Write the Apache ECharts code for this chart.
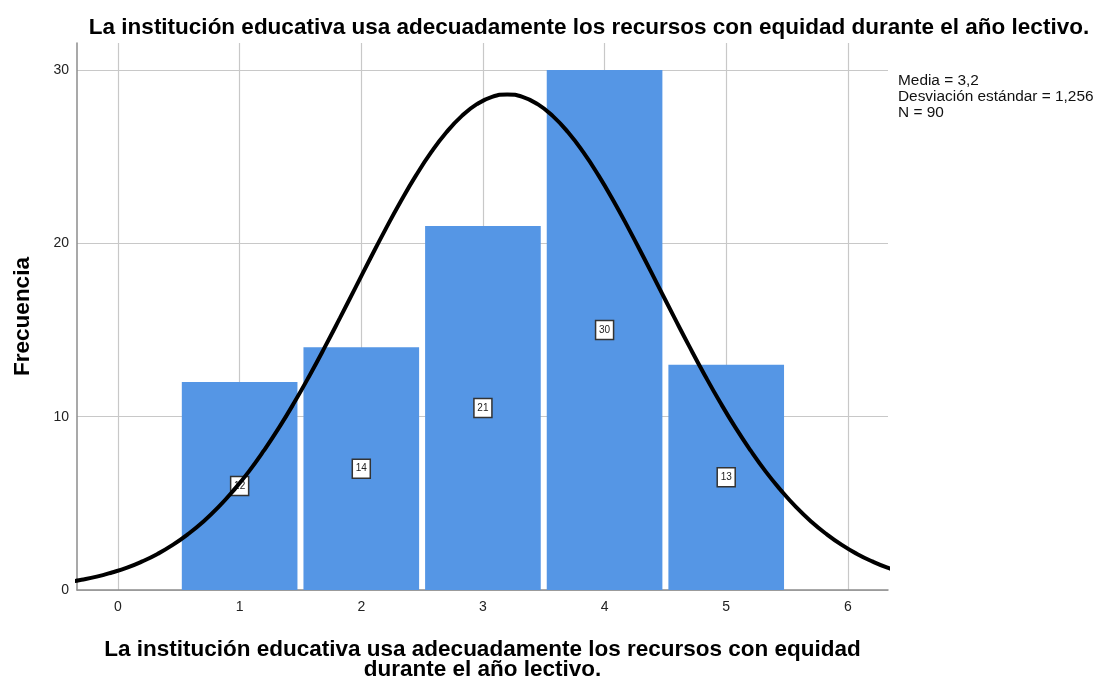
<!DOCTYPE html>
<html><head><meta charset="utf-8">
<script src="https://cdn.jsdelivr.net/npm/echarts@6/dist/echarts.min.js"></script>
<style>html,body{margin:0;padding:0;background:#fff}#c{width:1097px;height:680px}</style>
</head><body><div id="c"></div>
<script>
const categories = [1, 2, 3, 4, 5];
const frequencies = [12, 14, 21, 30, 13];
const xTicks = [0, 1, 2, 3, 4, 5, 6];
const yTicks = [0, 10, 20, 30];
const curveX = [-0.55, -0.425, -0.3, -0.175, -0.05, 0.075, 0.2, 0.325, 0.45, 0.575, 0.7, 0.825, 0.95, 1.075, 1.2, 1.325, 1.45, 1.575, 1.7, 1.825, 1.95, 2.075, 2.2, 2.325, 2.45, 2.575, 2.7, 2.825, 2.95, 3.075, 3.2, 3.325, 3.45, 3.575, 3.7, 3.825, 3.95, 4.075, 4.2, 4.325, 4.45, 4.575, 4.7, 4.825, 4.95, 5.075, 5.2, 5.325, 5.45, 5.575, 5.7, 5.825, 5.95, 6.075, 6.2, 6.325, 6.45];
const curveY = [0.33, 0.44, 0.59, 0.77, 1.01, 1.29, 1.65, 2.08, 2.60, 3.22, 3.94, 4.78, 5.75, 6.83, 8.05, 9.38, 10.83, 12.38, 14.01, 15.70, 17.42, 19.14, 20.82, 22.43, 23.92, 25.26, 26.41, 27.34, 28.03, 28.45, 28.59, 28.45, 28.03, 27.34, 26.41, 25.26, 23.92, 22.43, 20.82, 19.14, 17.42, 15.70, 14.01, 12.38, 10.83, 9.38, 8.05, 6.83, 5.75, 4.78, 3.94, 3.22, 2.60, 2.08, 1.65, 1.29, 1.01];
const statsLines = ['Media = 3,2', 'Desviación estándar = 1,256', 'N = 90'];
const titleText = 'La institución educativa usa adecuadamente los recursos con equidad durante el año lectivo.';
const xName = 'La institución educativa usa adecuadamente los recursos con equidad\ndurante el año lectivo.';
const yName = 'Frecuencia';

const FONT = '"Liberation Sans", Arial, sans-serif';
const chart = echarts.init(document.getElementById('c'), null, {renderer: 'canvas'});

const barData = categories.map((c, i) => [c, frequencies[i]]);
const curveData = curveX.map((x, i) => [x, curveY[i]]);

chart.setOption({
  animation: false,
  backgroundColor: '#fff',
  title: {
    text: titleText, left: 584, top: 11, textAlign: 'center',
    textStyle: {fontFamily: FONT, fontSize: 22.5, fontWeight: 'bold', color: '#000'}
  },
  grid: {left: 77, right: 209, top: 43, bottom: 90, containLabel: false, outerBoundsMode: 'none'},
  xAxis: {
    type: 'value', min: -0.337, max: 6.33,
    name: xName, nameLocation: 'middle', nameGap: 50,
    nameTextStyle: {fontFamily: FONT, fontSize: 22.5, fontWeight: 'bold', color: '#000', lineHeight: 20},
    axisLine: {show: true, onZero: false, lineStyle: {color: '#8c8c8c', width: 1.5}},
    axisTick: {show: false, customValues: xTicks},
    axisLabel: {customValues: xTicks, fontFamily: FONT, fontSize: 14, color: '#222', margin: 10},
    splitLine: {show: true, lineStyle: {color: '#c8c8c8', width: 1.2}}
  },
  yAxis: {
    type: 'value', min: 0, max: 31.56,
    name: yName, nameLocation: 'middle', nameGap: 43, nameRotate: 90,
    nameTextStyle: {fontFamily: FONT, fontSize: 22.5, fontWeight: 'bold', color: '#000'},
    axisLine: {show: true, onZero: false, lineStyle: {color: '#8c8c8c', width: 1.5}},
    axisTick: {show: false, customValues: yTicks},
    axisLabel: {customValues: yTicks, fontFamily: FONT, fontSize: 14, color: '#222', margin: 8},
    splitLine: {show: true, lineStyle: {color: '#c8c8c8', width: 1.2}}
  },
  series: [
    {
      type: 'custom',
      data: barData,
      z: 2,
      renderItem: function (params, api) {
        const x = api.value(0), y = api.value(1);
        const p0 = api.coord([x - 0.5, y]);
        const p1 = api.coord([x + 0.5, 0]);
        const inset = 3;
        return {
          type: 'rect',
          shape: {x: p0[0] + inset, y: p0[1], width: p1[0] - p0[0] - 2 * inset, height: p1[1] - p0[1]},
          style: {fill: '#5596e5'}
        };
      }
    },
    {
      type: 'custom',
      data: barData,
      z: 3,
      renderItem: function (params, api) {
        const x = api.value(0), y = api.value(1);
        const p = api.coord([x, y / 2]);
        const w = 18, h = 19;
        return {
          type: 'group',
          children: [
            {type: 'rect', shape: {x: p[0] - w / 2, y: p[1] - h / 2, width: w, height: h},
             style: {fill: '#fff', stroke: '#333', lineWidth: 1.5}, z2: 10},
            {type: 'text', style: {x: p[0], y: p[1], text: String(y), align: 'center', verticalAlign: 'middle',
             fontFamily: FONT, fontSize: 10, fill: '#222'}, z2: 11}
          ]
        };
      }
    },
    {
      type: 'line',
      data: curveData,
      smooth: true,
      showSymbol: false,
      clip: true,
      z: 5,
      lineStyle: {color: '#000', width: 4},
      silent: true
    }
  ],
  graphic: statsLines.map((t, i) => ({
    type: 'text', left: 898, top: 73.5 + i * 16,
    style: {text: t, fontFamily: FONT, fontSize: 15.4, fill: '#111'}
  }))
});
</script>
</body></html>
